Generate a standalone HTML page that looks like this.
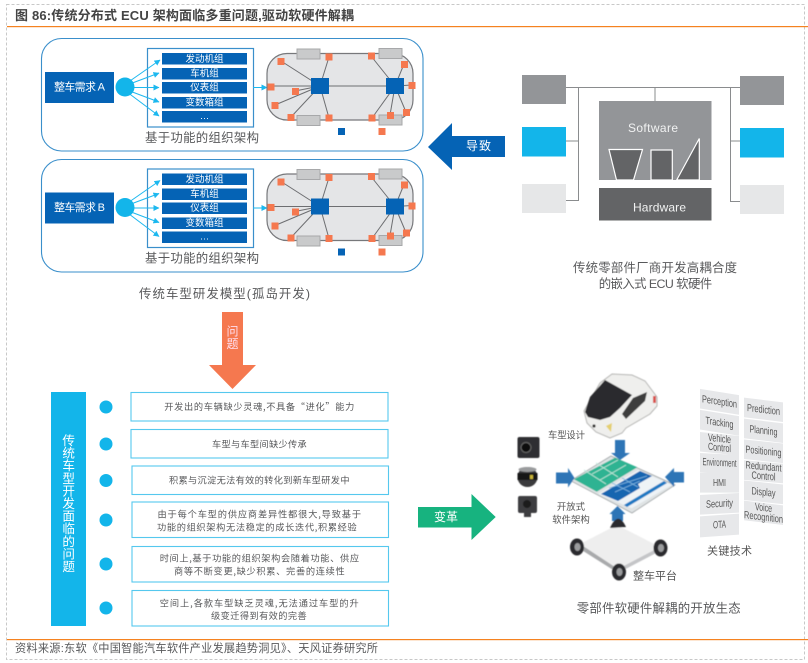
<!DOCTYPE html>
<html lang="zh"><head><meta charset="utf-8">
<style>
html,body{margin:0;padding:0;background:#fff;width:808px;height:663px;overflow:hidden}
svg{display:block;filter:blur(0.3px)}
text{font-family:"Liberation Sans","Noto Sans CJK SC",sans-serif;dominant-baseline:central}
.g{fill:#58595b;font-size:12.4px}
.i{fill:#58595b;font-size:9.2px;font-family:"Noto Sans CJK SC","Liberation Sans",sans-serif}
.w{fill:#fff;font-size:9.5px;text-anchor:middle}
.t{fill:#555;font-size:11px;text-anchor:middle}
</style></head><body>
<svg xmlns="http://www.w3.org/2000/svg" width="808" height="663" viewBox="0 0 808 663">
<defs>
<filter id="b" x="-5%" y="-5%" width="110%" height="110%"><feGaussianBlur stdDeviation="0.5"/></filter>
<marker id="m" markerWidth="7" markerHeight="7" refX="5.5" refY="3" orient="auto" markerUnits="userSpaceOnUse"><path d="M0 0L6 3L0 6z" fill="#1cb8ef"/></marker>
<g id="car">
<rect x="267" y="53.5" width="146" height="66.5" rx="20" fill="#e4e5e7" stroke="#77787b" stroke-width="1.2"/>
<g fill="#c9cacb" stroke="#a7a8aa"><rect x="297" y="49" width="23" height="10"/><rect x="379" y="48.5" width="23" height="10"/><rect x="297" y="115.5" width="23" height="10"/><rect x="379" y="115" width="23" height="10"/></g>
<g stroke="#6d6e71" stroke-width="1"><path d="M271 86H404M320 86L329 57M320 86L281 61M320 86L275 105M320 86L291 117M320 86L329 118M320 86L295 91M395 86L371 56M395 86L404 64M395 86L412 85M395 86L406 112M395 86L390 115M395 86L372 118"/></g>
<g fill="#0563b5"><rect x="311" y="78" width="18" height="16"/><rect x="386" y="78" width="18" height="16"/><rect x="338" y="128" width="7" height="7"/></g>
<g fill="#f5784f"><rect x="325.5" y="53.5" width="7" height="7"/><rect x="277.5" y="58" width="7" height="7"/><rect x="267.5" y="83.5" width="7" height="7"/><rect x="292" y="88" width="7" height="7"/><rect x="271.5" y="102" width="7" height="7"/><rect x="287.5" y="114" width="7" height="7"/><rect x="325.5" y="114.5" width="7" height="7"/><rect x="368" y="52.5" width="7" height="7"/><rect x="401" y="61" width="7" height="7"/><rect x="408.5" y="82" width="7" height="7"/><rect x="403" y="109" width="7" height="7"/><rect x="387" y="112" width="7" height="7"/><rect x="368.5" y="114.5" width="7" height="7"/><rect x="378.5" y="128" width="7" height="7"/></g>
</g>
<g id="rows" fill="#0563b5"><rect x="162" y="53" width="85" height="11.5"/><rect x="162" y="68" width="85" height="11.5"/><rect x="162" y="82" width="85" height="11.5"/><rect x="162" y="97" width="85" height="11.5"/><rect x="162" y="111" width="85" height="11.5"/></g>
<g id="fan" stroke="#1cb8ef" stroke-width="1" fill="none"><path d="M127 83L160 60" marker-end="url(#m)"/><path d="M127 85L159 73" marker-end="url(#m)"/><path d="M127 87.5L159 87.5" marker-end="url(#m)"/><path d="M127 90L159 102" marker-end="url(#m)"/><path d="M127 92L159 116" marker-end="url(#m)"/><path d="M253 87.5L267 87.5" marker-end="url(#m)"/></g>
</defs>

<rect width="808" height="663" fill="#fff"/>
<!-- frame -->
<path d="M6.5 4.5H804.5V659.5H6.5z" fill="none" stroke="#c8c8c8" stroke-dasharray="3 2"/>
<rect x="7" y="26" width="801" height="1.2" fill="#f58220"/>
<rect x="7" y="639" width="801" height="1.2" fill="#f58220"/>
<text x="15" y="15.5" style="font-size:13px;font-weight:bold;fill:#444" textLength="339" lengthAdjust="spacing">图 86:传统分布式 ECU 架构面临多重问题,驱动软硬件解耦</text>
<text x="15" y="649" style="font-size:11.2px;fill:#58595b" textLength="363">资料来源:东软《中国智能汽车软件产业发展趋势洞见》、天风证券研究所</text>

<!-- panel A -->
<rect x="41.5" y="38.5" width="381.5" height="112.5" rx="20" fill="#fff" stroke="#3a8fcb" stroke-width="1.1"/>
<rect x="45" y="72" width="69" height="31" fill="#0563b5"/>
<text x="79.5" y="87.5" class="w" style="font-size:11px" textLength="51">整车需求 A</text>
<rect x="147.5" y="48.5" width="106" height="78.5" fill="#fff" stroke="#3a8fcb" stroke-width="1.2"/>
<use href="#rows"/>
<use href="#fan"/>
<circle cx="125" cy="87" r="9.5" fill="#13b5ea"/>
<text x="204.5" y="59.5" class="w">发动机组</text>
<text x="204.5" y="74" class="w">车机组</text>
<text x="204.5" y="88" class="w">仪表组</text>
<text x="204.5" y="103" class="w">变数箱组</text>
<text x="204.5" y="116.5" class="w">…</text>
<use href="#car"/>
<text x="145" y="138" class="g" textLength="114">基于功能的组织架构</text>

<!-- panel B -->
<rect x="41.5" y="159.5" width="381.5" height="112.5" rx="20" fill="#fff" stroke="#3a8fcb" stroke-width="1.1"/>
<g transform="translate(0,120.5)">
<rect x="45" y="72" width="69" height="31" fill="#0563b5"/>
<text x="79.5" y="87.5" class="w" style="font-size:11px" textLength="51">整车需求 B</text>
<rect x="147.5" y="48.5" width="106" height="78.5" fill="#fff" stroke="#3a8fcb" stroke-width="1.2"/>
<use href="#rows"/>
<use href="#fan"/>
<circle cx="125" cy="87" r="9.5" fill="#13b5ea"/>
<text x="204.5" y="59.5" class="w">发动机组</text>
<text x="204.5" y="74" class="w">车机组</text>
<text x="204.5" y="88" class="w">仪表组</text>
<text x="204.5" y="103" class="w">变数箱组</text>
<text x="204.5" y="116.5" class="w">…</text>
<use href="#car"/>
<text x="145" y="138" class="g" textLength="114">基于功能的组织架构</text>
</g>
<text x="139" y="294" class="g" textLength="171">传统车型研发模型(孤岛开发)</text>

<!-- orange arrow -->
<path d="M222 312H243V365H256L232.5 389L209 365H222z" fill="#f5784f"/>
<text x="232.5" y="331.5" class="w" style="font-size:12px;fill:#fde">问</text>
<text x="232.5" y="344" class="w" style="font-size:12px;fill:#fde">题</text>

<!-- blue arrow -->
<path d="M428 147L452 123V136H505V157H452V170z" fill="#0563b5"/>
<text x="466" y="146" style="font-size:12px;fill:#fff" textLength="25">导致</text>

<!-- right diagram -->
<g stroke="#8a8c8e" stroke-width="1" fill="none"><path d="M566 87.5H740M578.5 87.5V200.5H566M566 141H578.5M730.5 87.5V201.5H740M730.5 141H740M655 87.5V101"/></g>
<rect x="522" y="75" width="44" height="29" fill="#939598"/>
<rect x="522" y="127" width="44" height="29.5" fill="#13b5ea"/>
<rect x="522" y="184" width="44" height="29" fill="#e6e7e8"/>
<rect x="740" y="76" width="44" height="29" fill="#939598"/>
<rect x="740" y="128" width="44" height="29.5" fill="#13b5ea"/>
<rect x="740" y="185" width="44" height="29" fill="#e6e7e8"/>
<rect x="599" y="101" width="112.5" height="79" fill="#939598"/>
<rect x="599" y="188" width="112.5" height="32.5" fill="#636466"/>
<g fill="#636466" stroke="#fff" stroke-width="1.2"><path d="M609 149.5H642.5L633.5 180H616.5z"/><rect x="651" y="150" width="21.3" height="30"/><path d="M699.3 138.5V180H676.7z"/></g>
<text x="628" y="128" style="font-size:12px;fill:#f1f2f2" textLength="50">Software</text>
<text x="633" y="207.5" style="font-size:12px;fill:#f1f2f2" textLength="53">Hardware</text>
<text x="573" y="268" class="g" textLength="164">传统零部件厂商开发高耦合度</text>
<text x="598.7" y="284" class="g" textLength="113.5">的嵌入式 ECU 软硬件</text>

<!-- left list -->
<rect x="51" y="392" width="35" height="234" fill="#13b5ea"/>
<g fill="#fff" style="font-size:12.6px" text-anchor="middle">
<text x="68.7" y="441">传</text><text x="68.7" y="453.6">统</text><text x="68.7" y="466.2">车</text><text x="68.7" y="478.8">型</text><text x="68.7" y="491.4">开</text><text x="68.7" y="504">发</text><text x="68.7" y="516.6">面</text><text x="68.7" y="529.2">临</text><text x="68.7" y="541.8">的</text><text x="68.7" y="554.4">问</text><text x="68.7" y="567">题</text>
</g>
<g fill="#13b5ea"><circle cx="106" cy="407" r="6.5"/><circle cx="106" cy="444" r="6.5"/><circle cx="106" cy="480.5" r="6.5"/><circle cx="106" cy="520" r="6.5"/><circle cx="106" cy="564" r="6.5"/><circle cx="106" cy="608" r="6.5"/></g>
<g fill="#fff" stroke="#55c8ee" stroke-width="1.1">
<rect x="131" y="392.5" width="257" height="28.5"/><rect x="131" y="429.5" width="257" height="28.5"/><rect x="132" y="466" width="256.5" height="28.5"/><rect x="132" y="502" width="256.5" height="35.5"/><rect x="132" y="546.5" width="256.5" height="35.5"/><rect x="132" y="590.5" width="256.5" height="35.5"/>
</g>
<text x="164.3" y="406" class="i" textLength="190">开发出的车辆缺少灵魂,不具备“进化”能力</text>
<text x="212" y="443.7" class="i" textLength="94.7">车型与车型间缺少传承</text>
<text x="169" y="479.7" class="i" textLength="180.5">积累与沉淀无法有效的转化到新车型研发中</text>
<text x="157.5" y="513.3" class="i" textLength="203.5">由于每个车型的供应商差异性都很大,导致基于</text>
<text x="157" y="526.3" class="i" textLength="199.7">功能的组织架构无法稳定的成长迭代,积累经验</text>
<text x="159.7" y="557.3" class="i" textLength="199.3">时间上,基于功能的组织架构会随着功能、供应</text>
<text x="174" y="570.3" class="i" textLength="170.7">商等不断变更,缺少积累、完善的连续性</text>
<text x="159.7" y="602.3" class="i" textLength="199">空间上,各款车型缺乏灵魂,无法通过车型的升</text>
<text x="211" y="615" class="i" textLength="95.7">级变迁得到有效的完善</text>

<!-- green arrow -->
<path d="M418 507H471.5V494L495.7 517L471.5 540V527.5H418z" fill="#17b37f"/>
<text x="434" y="517" style="font-size:12px;fill:#fff" textLength="24">变革</text>

<!-- ecosystem picture -->
<g filter="url(#b)">
<!-- car -->
<path d="M584 411L600 383L612 374L632 375L645 381L657 397L657 406L650 414L626 428L622 433L610 438L596 432L587 423z" fill="#efefed" stroke="#b5b5b3" stroke-width="1"/>
<path d="M585 412L590 397L605 380L632 395L620 408L610 417L600 420L588 417z" fill="#2b2b2d"/>
<path d="M622 414L633 398L647 392L645 401L626 419z" fill="#3c3c3e"/>
<path d="M606 426L612 423L611 432z" fill="#e4cf70"/>
<circle cx="594" cy="426" r="1.6" fill="#333"/>
<rect x="653" y="396" width="3" height="7" fill="#d9534f"/>
<!-- board -->
<path d="M570.7 480.7L611 456L675 485L632 513z" fill="#dfe3e4" stroke="#9fa4a6" stroke-width="0.8"/>
<path d="M574 479.3L615 457.7L637.3 467.3L596.7 491.7z" fill="#2fb392"/>
<path d="M598.3 494L638.3 470L671.7 485L631.7 508.3z" fill="#eef3f6"/>
<path d="M601 494L640 471L652 476L638 484L640 488L618 501z" fill="#1565b0"/>
<path d="M624 505L664 481L667 483L627 507z" fill="#1d79c2"/>
<path d="M592 474L618 460M600 480L626 465M584 470L606 484M596 463L618 477" stroke="#bfe8da" stroke-width="0.9" fill="none"/>
<path d="M609 488L647 476M615 492L640 481M612 483L630 492M622 478L638 487" stroke="#7fb6e0" stroke-width="0.8" fill="none"/>
<!-- blue arrows -->
<g fill="#2e75b6">
<path d="M615 440H625V453H630L620 460L611 453H615z"/>
<path d="M556 472.5H568V468L574.5 478L568 487.5V483.5H556z"/>
<path d="M684 472H674V468L665 477L674 487V482.5H684z"/>
<path d="M612 521V514H609.5L617.5 506L625.5 514H623V521z"/>
</g>
<!-- platform -->
<path d="M580 544L617 525L660 547L618 569z" fill="#eeeeee"/>
<path d="M580 544L618 569L618 573L580 549z" fill="#a9aaac"/>
<path d="M660 547L618 569L618 573L660 551z" fill="#c4c5c7"/>
<g fill="#2c2c2e"><ellipse cx="577" cy="547" rx="7" ry="8.5"/><ellipse cx="660.5" cy="548" rx="7" ry="8.5"/><ellipse cx="619" cy="572" rx="7" ry="8.5"/><path d="M610 528Q618 510 626 527z"/></g>
<g fill="#9a9b9d"><ellipse cx="577.5" cy="547" rx="3" ry="4"/><ellipse cx="661" cy="548" rx="3" ry="4"/><ellipse cx="619.5" cy="572" rx="3" ry="4"/></g>
<!-- sensors -->
<rect x="517.5" y="437" width="22" height="21" rx="2" fill="#2e2e30"/><circle cx="526" cy="447.5" r="5" fill="#111" stroke="#666"/>
<ellipse cx="527.5" cy="477" rx="10" ry="10" fill="#3a3a3c"/><rect x="517.5" y="473" width="20" height="7" fill="#141414"/><rect x="530" y="475" width="3" height="4" fill="#c8b437"/><ellipse cx="527.5" cy="469.5" rx="9" ry="2.5" fill="#9a9b9d"/>
<rect x="518" y="496" width="19" height="17" rx="2" fill="#3e3e40"/><circle cx="527" cy="504" r="4" fill="#1a1a1a"/><rect x="524" y="512" width="7" height="5" fill="#3e3e40"/>
</g>

<text x="548" y="435" class="t" style="text-anchor:start;font-size:9.4px" textLength="37">车型设计</text>
<text x="571" y="506.7" class="t" style="font-size:9.4px">开放式</text>
<text x="571" y="519.7" class="t" style="font-size:9.4px">软件架构</text>
<text x="633" y="576.7" class="t" style="text-anchor:start" textLength="44">整车平台</text>
<text x="707" y="551.7" class="t" style="text-anchor:start" textLength="45">关键技术</text>
<text x="576.7" y="608.3" class="g" textLength="164">零部件软硬件解耦的开放生态</text>

<!-- tags left -->
<g style="font-size:10.5px" fill="#555" text-anchor="middle">
<g transform="translate(719.5,402) skewY(9)"><rect x="-19.5" y="-10" width="39" height="19.6" fill="#e7e8ea"/><text y="0" textLength="35" lengthAdjust="spacingAndGlyphs">Perception</text></g>
<g transform="translate(719.5,423) skewY(9)"><rect x="-19.5" y="-10" width="39" height="19.6" fill="#e7e8ea"/><text y="0" textLength="28" lengthAdjust="spacingAndGlyphs">Tracking</text></g>
<g transform="translate(719.5,444) skewY(6)"><rect x="-19.5" y="-10" width="39" height="19.6" fill="#e7e8ea"/><text y="-5" textLength="23" lengthAdjust="spacingAndGlyphs">Vehicle</text><text y="4" textLength="23" lengthAdjust="spacingAndGlyphs">Control</text></g>
<g transform="translate(719.5,464) skewY(3)"><rect x="-19.5" y="-10" width="39" height="19.6" fill="#e7e8ea"/><text y="-1" textLength="34" lengthAdjust="spacingAndGlyphs">Environment</text></g>
<g transform="translate(719.5,483)"><rect x="-19.5" y="-10" width="39" height="19.6" fill="#e7e8ea"/><text y="0" textLength="13" lengthAdjust="spacingAndGlyphs">HMI</text></g>
<g transform="translate(719.5,504) skewY(-3)"><rect x="-19.5" y="-10" width="39" height="19.6" fill="#e7e8ea"/><text y="0" textLength="27" lengthAdjust="spacingAndGlyphs">Security</text></g>
<g transform="translate(719.5,525) skewY(-4)"><rect x="-19.5" y="-10" width="39" height="21" fill="#e7e8ea"/><text y="0" textLength="13" lengthAdjust="spacingAndGlyphs">OTA</text></g>
<!-- tags right -->
<g transform="translate(763.5,410) skewY(7)"><rect x="-19.5" y="-10" width="39" height="19.6" fill="#e7e8ea"/><text y="0" textLength="33" lengthAdjust="spacingAndGlyphs">Prediction</text></g>
<g transform="translate(763.5,431) skewY(7)"><rect x="-19.5" y="-10" width="39" height="19.6" fill="#e7e8ea"/><text y="0" textLength="28" lengthAdjust="spacingAndGlyphs">Planning</text></g>
<g transform="translate(763.5,451.5) skewY(6)"><rect x="-19.5" y="-10" width="39" height="19.6" fill="#e7e8ea"/><text y="0" textLength="36" lengthAdjust="spacingAndGlyphs">Positioning</text></g>
<g transform="translate(763.5,472) skewY(5)"><rect x="-19.5" y="-10" width="39" height="19.6" fill="#e7e8ea"/><text y="-5" textLength="36" lengthAdjust="spacingAndGlyphs">Redundant</text><text y="4.5" textLength="24" lengthAdjust="spacingAndGlyphs">Control</text></g>
<g transform="translate(763.5,492.5) skewY(6)"><rect x="-19.5" y="-10" width="39" height="19.6" fill="#e7e8ea"/><text y="0" textLength="24" lengthAdjust="spacingAndGlyphs">Display</text></g>
<g transform="translate(763.5,513) skewY(7)"><rect x="-19.5" y="-10" width="39" height="19.6" fill="#e7e8ea"/><text y="-5" textLength="17" lengthAdjust="spacingAndGlyphs">Voice</text><text y="4.5" textLength="39" lengthAdjust="spacingAndGlyphs">Recognition</text></g>
</g>
</svg>
</body></html>
